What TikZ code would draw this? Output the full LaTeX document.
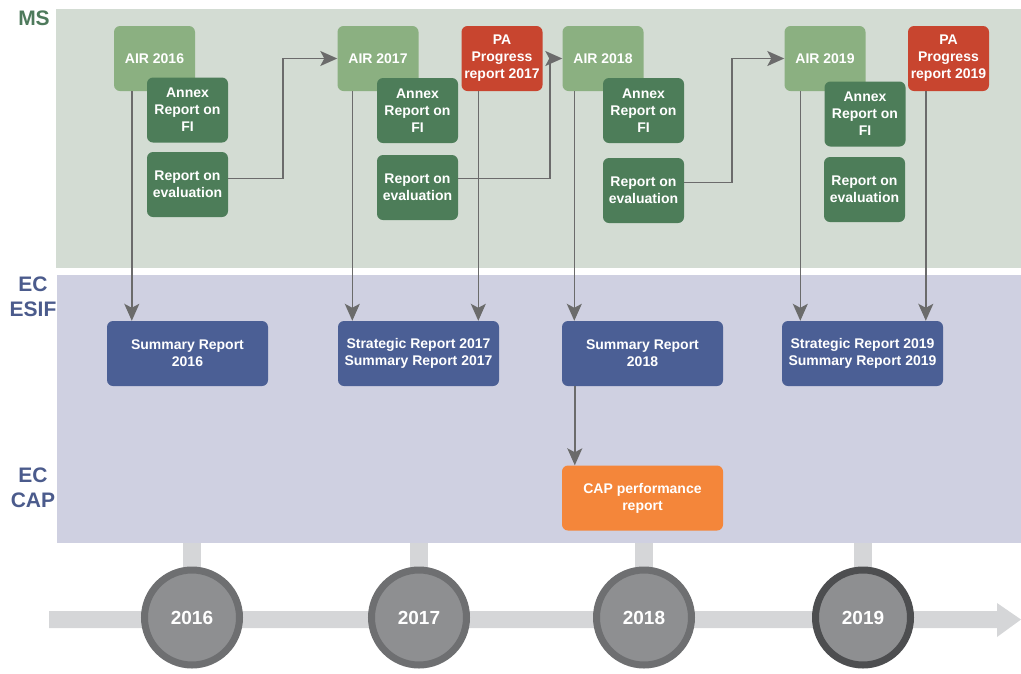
\documentclass[tikz,border=0pt]{standalone}
\usepackage{fontspec}
\setmainfont{Liberation Sans}
\usepackage{tikz}
\usetikzlibrary{arrows.meta,backgrounds,positioning}
\definecolor{msband}{HTML}{D3DCD3}
\definecolor{ecband}{HTML}{CFD0E1}
\definecolor{airgreen}{HTML}{8BB081}
\definecolor{docgreen}{HTML}{4D7D59}
\definecolor{pared}{HTML}{C8452F}
\definecolor{repblue}{HTML}{4B5F95}
\definecolor{caporange}{HTML}{F4863A}
\definecolor{linkgray}{HTML}{6B6B6B}
\definecolor{tlgray}{HTML}{D5D6D8}
\definecolor{ringgray}{HTML}{6E6F71}
\definecolor{ringdark}{HTML}{4D4E50}
\definecolor{yeargray}{HTML}{8E8F91}
\definecolor{mstext}{HTML}{4E7A5C}
\definecolor{ectext}{HTML}{4B5B8C}
\tikzset{RepBox/.style={rectangle,rounded corners=6pt,text=white,align=center,inner sep=1pt,font=\bfseries\fontsize{14}{17}\selectfont}}
\tikzset{RepSmall/.style={RepBox,minimum width=81pt,minimum height=65pt}}
\tikzset{RepAIR/.style={RepSmall,fill=airgreen}}
\tikzset{RepDoc/.style={RepSmall,fill=docgreen}}
\tikzset{RepPA/.style={RepSmall,fill=pared}}
\tikzset{RepEC/.style={RepBox,fill=repblue,minimum width=161pt,minimum height=65pt}}
\tikzset{RepCAP/.style={RepBox,fill=caporange,minimum width=161pt,minimum height=65pt}}
\tikzset{RepLink/.style={draw=linkgray,line width=1.6pt,->}}
\tikzset{TLYear/.style={circle,draw=ringgray,line width=7pt,fill=yeargray,minimum size=95pt,inner sep=0pt,text=white,font=\bfseries\fontsize{19}{22}\selectfont}}
\tikzset{TLStem/.style={draw=tlgray,line width=18pt}}
\tikzset{BandLabel/.style={align=center,font=\bfseries\fontsize{21}{25}\selectfont}}

\begin{document}
\begin{tikzpicture}[x=1pt,y=-1pt,>={Stealth[length=17pt,width=15pt,inset=4pt]}]
\useasboundingbox (0,0) rectangle (1021,673);
% bands
\fill [msband] (56,9) rectangle (1021,268);
\fill [ecband] (57,275) rectangle (1021,543);
\coordinate (ecbottom) at (0,543);
\node (ms) at (34,18) [BandLabel,text=mstext] {MS};
\node (esif) at (33,297) [BandLabel,text=ectext] {EC\\ESIF};
\node (cap) at (33,488) [BandLabel,text=ectext] {EC\\CAP};
% timeline
\fill [tlgray] (49,611) -- (997,611) -- (997,603) -- (1021,619.5) -- (997,637) -- (997,628) -- (49,628) -- cycle;
\node (y16) at (192,617.5) [TLYear] {2016};
\node (y17) at (419,617.5) [TLYear] {2017};
\node (y18) at (644,617.5) [TLYear] {2018};
\node (y19) at (863,617.5) [TLYear,draw=ringdark] {2019};
\begin{scope}[on background layer]
\draw [TLStem] (y16.center) -- (y16.center |- ecbottom);
\draw [TLStem] (y17.center) -- (y17.center |- ecbottom);
\draw [TLStem] (y18.center) -- (y18.center |- ecbottom);
\draw [TLStem] (y19.center) -- (y19.center |- ecbottom);
\end{scope}
% member states
\node (air16) at (154.5,58.5) [RepAIR] {AIR 2016};
\node (annex16) at (187.5,110) [RepDoc] {Annex\\Report on\\FI};
\node (eval16) at (187.5,184.5) [RepDoc] {Report on\\evaluation};
\node (air17) at (378,58.5) [RepAIR] {AIR 2017};
\node (annex17) at (417.5,110.5) [RepDoc] {Annex\\Report on\\FI};
\node (eval17) at (417.5,187.5) [RepDoc] {Report on\\evaluation};
\node (pa17) at (502,58.5) [RepPA] {PA\\Progress\\report 2017};
\node (air18) at (603,58.5) [RepAIR] {AIR 2018};
\node (annex18) at (643.5,110.5) [RepDoc] {Annex\\Report on\\FI};
\node (eval18) at (643.5,190.5) [RepDoc] {Report on\\evaluation};
\node (air19) at (825,58.5) [RepAIR] {AIR 2019};
\node (annex19) at (865,114) [RepDoc] {Annex\\Report on\\FI};
\node (eval19) at (864.5,189.5) [RepDoc] {Report on\\evaluation};
\node (pa19) at (948.5,58.5) [RepPA] {PA\\Progress\\report 2019};
% commission
\node (sum16) at (187.5,353.5) [RepEC] {Summary Report\\2016};
\node (str17) at (418.5,353.5) [RepEC] {Strategic Report 2017\\Summary Report 2017};
\node (sum18) at (642.5,353.5) [RepEC] {Summary Report\\2018};
\node (str19) at (862.5,353.5) [RepEC] {Strategic Report 2019\\Summary Report 2019};
\node (cap18) at (642.5,498) [RepCAP] {CAP performance\\report};
% links
\draw [RepLink] ([yshift=6pt]eval16.east) -- ++(55,0) |- (air17.west);
\draw [RepLink] ([yshift=9pt]eval17.east) -- ++(92,0) |- (air18.west);
\draw [RepLink] ([yshift=8pt]eval18.east) -- ++(48,0) |- (air19.west);
\draw [RepLink] ([xshift=18pt]air16.south west) -- ([xshift=18pt]air16.south west |- sum16.north);
\draw [RepLink] ([xshift=15pt]air17.south west) -- ([xshift=15pt]air17.south west |- str17.north);
\draw [RepLink] ([xshift=17pt]pa17.south west) -- ([xshift=17pt]pa17.south west |- str17.north);
\draw [RepLink] ([xshift=12pt]air18.south west) -- ([xshift=12pt]air18.south west |- sum18.north);
\draw [RepLink] ([xshift=16pt]air19.south west) -- ([xshift=16pt]air19.south west |- str19.north);
\draw [RepLink] ([xshift=18pt]pa19.south west) -- ([xshift=18pt]pa19.south west |- str19.north);
\draw [RepLink] ([xshift=13pt]sum18.south west) -- ([xshift=13pt]sum18.south west |- cap18.north);
\end{tikzpicture}
\end{document}
